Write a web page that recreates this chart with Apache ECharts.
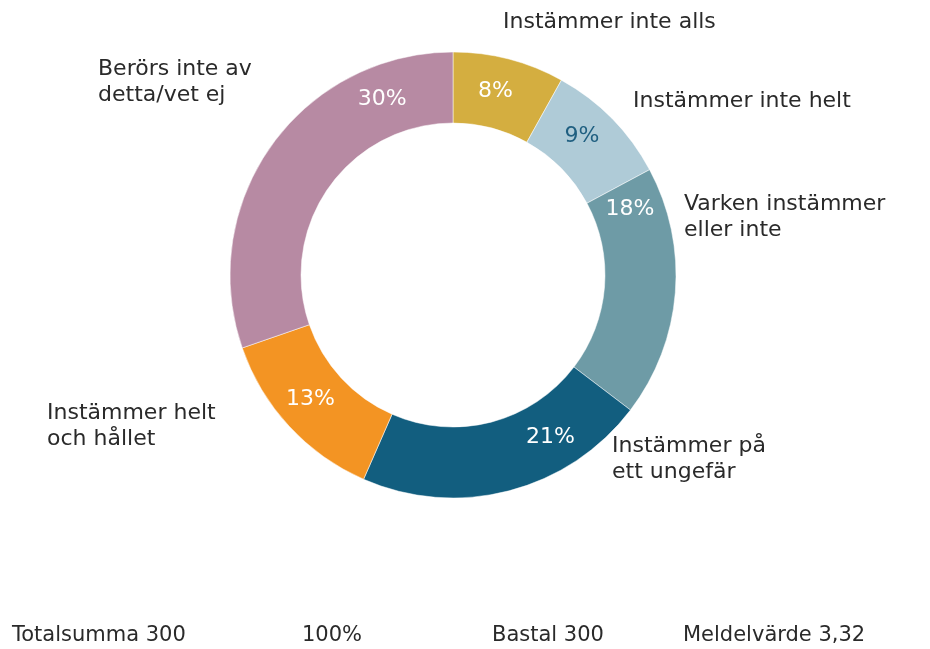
<!DOCTYPE html>
<html>
<head>
<meta charset="utf-8">
<script src="https://cdn.jsdelivr.net/npm/echarts@6/dist/echarts.min.js"></script>
<style>
  html, body { margin: 0; padding: 0; background: #fff; }
  #chart { width: 930px; height: 649px; }
</style>
</head>
<body>
<div id="chart"></div>
<script>
// svarsfördelning i procent
const categories = [
  'Instämmer inte alls',
  'Instämmer inte helt',
  'Varken instämmer\neller inte',
  'Instämmer på\nett ungefär',
  'Instämmer helt\noch hållet',
  'Berörs inte av\ndetta/vet ej'
]
const percents = [8, 9, 18, 21, 13, 30]
const colors = ['#D4AE40', '#AFCBD7', '#6E9BA6', '#125E7F', '#F39423', '#B78AA3']
const footer = ['Totalsumma 300', '100%', 'Bastal 300', 'Meldelvärde 3,32']

const FONT = '"DejaVu Sans", sans-serif'
const cx = 453, cy = 275

// var procenttexten hamnar (vinkel medurs från toppen)
const pctAngles = [13, 43, 69.5, 149, 229, 338]
// namnetiketter, övre vänstra hörnet
const namePos = [[503, 9], [633, 88], [684, 191], [612, 433], [47, 400], [98, 56]]

const pieData = categories.map((name, i) => ({
  name: name,
  value: percents[i],
  itemStyle: { color: colors[i] }
}))

const chart = echarts.init(document.getElementById('chart'))
chart.setOption({
  animation: false,
  series: [
    {
      type: 'pie',
      center: [cx, cy],
      radius: [152, 223],
      startAngle: 90,
      clockwise: true,
      silent: true,
      itemStyle: { borderColor: '#fff', borderWidth: 0.5 },
      label: {
        position: 'inside',
        fontFamily: FONT,
        fontSize: 22,
        color: '#fff',
        formatter: p => p.value + '%'
      },
      labelLine: { show: false },
      labelLayout: p => {
        const a = pctAngles[p.dataIndex] * Math.PI / 180
        return {
          x: cx + 189 * Math.sin(a),
          y: cy - 189 * Math.cos(a),
          align: 'center',
          verticalAlign: 'middle',
          hideOverlap: false
        }
      },
      data: pieData.map((d, i) => i === 1
        ? Object.assign({}, d, { label: { color: '#1F5F80' } })
        : d)
    },
    {
      type: 'pie',
      center: [cx, cy],
      radius: [152, 223],
      startAngle: 90,
      clockwise: true,
      silent: true,
      z: 1,
      itemStyle: { color: 'rgba(0,0,0,0)' },
      label: {
        position: 'outside',
        fontFamily: FONT,
        fontSize: 22,
        lineHeight: 26,
        color: '#2a2a2a',
        overflow: 'none',
        width: 300,
        formatter: '{b}'
      },
      labelLine: { show: false },
      labelLayout: p => ({
        x: namePos[p.dataIndex][0],
        y: namePos[p.dataIndex][1],
        align: 'left',
        verticalAlign: 'top',
        hideOverlap: false
      }),
      data: pieData.map(d => ({ name: d.name, value: d.value }))
    }
  ],
  graphic: footer.map((t, i) => ({
    type: 'text',
    left: [12, 302, 492, 683][i],
    top: 625,
    style: { text: t, font: '21px ' + FONT, fill: '#2a2a2a' }
  }))
})
</script>
</body>
</html>
